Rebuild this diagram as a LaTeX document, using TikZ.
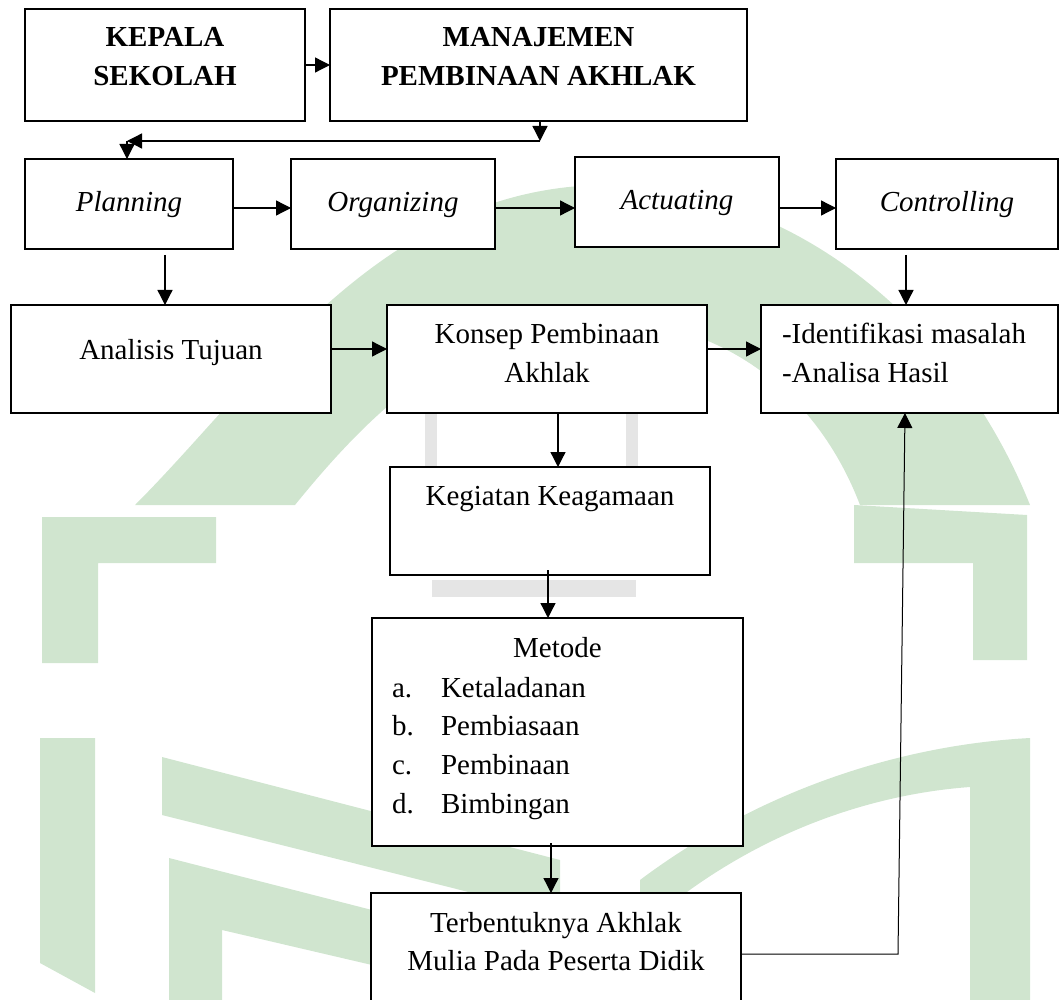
\documentclass[tikz,border=0pt]{standalone}
\usepackage{fontspec}
\setmainfont{Liberation Serif}
\usetikzlibrary{arrows.meta}
\definecolor{wmgreen}{RGB}{208,229,207}
\definecolor{wmgrey}{RGB}{229,229,229}
\begin{document}
\begin{tikzpicture}[x=1pt,y=-1pt,
  font=\fontsize{29}{39}\selectfont,
  box/.style={draw, line width=1.7pt, fill=white, inner sep=0pt, outer sep=0pt},
  txt/.style={inner sep=0pt, outer sep=0pt, anchor=base},
  txtl/.style={inner sep=0pt, outer sep=0pt, anchor=base west},
  arr/.style={line width=1.3pt, -{Triangle[length=15pt,width=15pt]}},
  thinarr/.style={line width=1pt, -{Triangle[length=15pt,width=15pt]}}]
\useasboundingbox (0,0) rectangle (1060,1000);
% ---------- faint watermark ----------
\fill[wmgreen] (135,505) .. controls (260,380) and (380,190) .. (600,185)
  .. controls (800,185) and (960,330) .. (1030,505) -- (860,505)
  .. controls (820,400) and (730,320) .. (600,320)
  .. controls (470,320) and (380,400) .. (295,505) -- cycle;
\fill[wmgreen] (42,517) -- (216,517) -- (216,563) -- (98,563) -- (98,663) -- (42,663) -- cycle;
\fill[wmgreen] (854,505) -- (1027,515) -- (1027,660) -- (973,660) -- (973,563) -- (854,563) -- cycle;
\fill[wmgreen] (40,738) -- (95,738) -- (95,993) -- (40,963) -- cycle;
\fill[wmgreen] (162,757) -- (560,860) -- (560,915) -- (162,815) -- cycle;
\fill[wmgreen] (169,858) -- (372,910) -- (372,965) -- (222,930) -- (222,1000) -- (169,1000) -- cycle;
\fill[wmgreen] (640,880) .. controls (760,790) and (900,745) .. (1030,738) -- (1030,1000) -- (970,1000)
  -- (970,787) .. controls (860,795) and (740,840) .. (640,930) -- cycle;
\fill[wmgrey] (425,413) rectangle (437,467);
\fill[wmgrey] (626,413) rectangle (638,467);
\fill[wmgrey] (432,580) rectangle (636,597);
% ---------- boxes ----------
\node[box, minimum width=280, minimum height=112] (kepala) at (165,65) {};
\node[box, minimum width=417, minimum height=112] (manaj) at (538.5,65) {};
\node[box, minimum width=208, minimum height=90] (planning) at (129,204) {};
\node[box, minimum width=204, minimum height=90] (organizing) at (393,204) {};
\node[box, minimum width=204, minimum height=90] (actuating) at (677,202) {};
\node[box, minimum width=222, minimum height=90] (controlling) at (947,204) {};
\node[box, minimum width=320, minimum height=108] (analisis) at (171,359) {};
\node[box, minimum width=320, minimum height=108] (konsep) at (547,359) {};
\node[box, minimum width=297, minimum height=108] (ident) at (909.5,359) {};
\node[box, minimum width=320, minimum height=108] (kegiatan) at (550,521) {};
\node[box, minimum width=371, minimum height=228] (metode) at (557.5,732) {};
\node[box, minimum width=370, minimum height=124] (terb) at (556,955) {};
% ---------- texts ----------
\node[txt] (kepala-a) at (165,47) {\bfseries KEPALA};
\node[txt] (kepala-b) at (165,86) {\bfseries SEKOLAH};
\node[txt] (manaj-a) at (538.5,47) {\bfseries MANAJEMEN};
\node[txt] (manaj-b) at (538.5,86) {\bfseries PEMBINAAN AKHLAK};
\node[txt] (planning-t) at (129,212) {\itshape Planning};
\node[txt] (organizing-t) at (393,212) {\itshape Organizing};
\node[txt] (actuating-t) at (677,210) {\itshape Actuating};
\node[txt] (controlling-t) at (947,212) {\itshape Controlling};
\node[txt] (analisis-t) at (171,359) {Analisis Tujuan};
\node[txt] (konsep-a) at (547,343) {Konsep Pembinaan};
\node[txt] (konsep-b) at (547,382) {Akhlak};
\node[txtl] (ident-a) at (782,343) {-Identifikasi masalah};
\node[txtl] (ident-b) at (782,382) {-Analisa Hasil};
\node[txt] (kegiatan-t) at (550,505) {Kegiatan Keagamaan};
\node[txt] (metode-t) at (557.5,657) {Metode};
\node[txtl] (ma) at (392,697) {a.};
\node[txtl] (mat) at (441,697) {Ketaladanan};
\node[txtl] (mb) at (392,735) {b.};
\node[txtl] (mbt) at (441,735) {Pembiasaan};
\node[txtl] (mc) at (392,774) {c.};
\node[txtl] (mct) at (441,774) {Pembinaan};
\node[txtl] (md) at (392,813) {d.};
\node[txtl] (mdt) at (441,813) {Bimbingan};
\node[txt] (terb-a) at (556,932) {Terbentuknya Akhlak};
\node[txt] (terb-b) at (556,970) {Mulia Pada Peserta Didik};
% ---------- connectors ----------
\draw[arr] (kepala.east) -- (manaj.west);
\coordinate (j1) at (540,141);
\coordinate (j2) at (127,141);
\draw[arr] (manaj.south -| j1) -- (j1);
\draw[arr] (j1) -- (j2);
\draw[arr] (j2) -- (j2 |- planning.north);
\coordinate (row1) at (0,208);
\draw[arr] (planning.east |- row1) -- (organizing.west |- row1);
\draw[arr] (organizing.east |- row1) -- (actuating.west |- row1);
\draw[arr] (actuating.east |- row1) -- (controlling.west |- row1);
\coordinate (p1) at (165,255);
\draw[arr] (p1) -- (p1 |- analisis.north);
\coordinate (c1) at (906,255);
\draw[arr] (c1) -- (c1 |- ident.north);
\coordinate (row2) at (0,349);
\draw[arr] (analisis.east |- row2) -- (konsep.west |- row2);
\draw[arr] (konsep.east |- row2) -- (ident.west |- row2);
\coordinate (kx) at (558,0);
\draw[arr] (konsep.south -| kx) -- (kegiatan.north -| kx);
\coordinate (gx) at (548,570);
\draw[arr] (gx) -- (gx |- metode.north);
\coordinate (mx) at (551,843);
\draw[arr] (mx) -- (mx |- terb.north);
\coordinate (t1) at (898,954);
\coordinate (t2) at (905,0);
\draw[thinarr] (terb.east |- t1) -- (t1) -- (t2 |- ident.south);
\end{tikzpicture}
\end{document}
